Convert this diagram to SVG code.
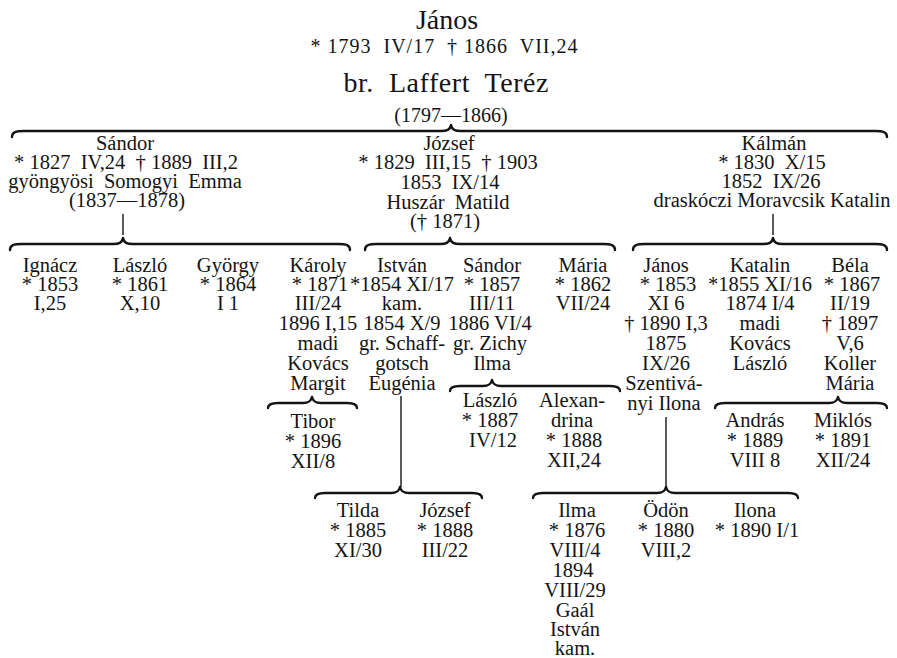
<svg xmlns="http://www.w3.org/2000/svg" width="897" height="658" viewBox="0 0 897 658">
<style>
text{font-family:"Liberation Serif","Times New Roman",serif;fill:#141414;text-anchor:middle;white-space:pre}
.b{font-size:20.5px}
.t1{font-size:28px}
.t2{font-size:20px}
.br{fill:none;stroke:#141414;stroke-width:2.4;stroke-linecap:round;stroke-linejoin:round}
.ln{stroke:#141414;stroke-width:1.4}
</style>
<rect width="897" height="658" fill="#fff"/>
<g id="connectors">
<path class="br" d="M12 137 C12 132 16 131 24 131 L441 131 C447 131 450 130 451 125 C452 130 455 131 461 131 L875 131 C883 131 887 132 887 137"/>
<path class="br" d="M10 250 C10 245 14 244 22 244 L113 244 C119 244 122 243 123 238 C124 243 127 244 133 244 L338 244 C346 244 350 245 350 250"/>
<path class="br" d="M365 250 C365 245 369 244 377 244 L440 244 C446 244 449 243 450 238 C451 243 454 244 460 244 L603 244 C611 244 615 245 615 250"/>
<path class="br" d="M633 250 C633 245 637 244 645 244 L763 244 C769 244 772 243 773 238 C774 243 777 244 783 244 L875 244 C883 244 887 245 887 250"/>
<path class="br" d="M268 408 C268 404 272 403 278 403 L303 403 C308 403 311 402 312 397 C313 402 316 403 321 403 L347 403 C353 403 357 404 357 408"/>
<path class="br" d="M450 391 C450 387 454 386 460 386 L483 386 C488 386 491 385 492 380 C493 385 496 386 501 386 L610 386 C616 386 620 387 620 391"/>
<path class="br" d="M715 408 C715 404 719 403 725 403 L829 403 C834 403 837 402 838 397 C839 402 842 403 847 403 L877 403 C883 403 887 404 887 408"/>
<path class="br" d="M315 498 C315 494 319 493 325 493 L391 493 C396 493 399 492 400 487 C401 492 404 493 409 493 L472 493 C478 493 482 494 482 498"/>
<path class="br" d="M533 498 C533 494 537 493 543 493 L657 493 C662 493 665 492 666 487 C667 492 670 493 675 493 L788 493 C794 493 798 494 798 498"/>
<line class="ln" x1="123" y1="214" x2="123" y2="235"/>
<line class="ln" x1="773" y1="214" x2="773" y2="235"/>
<line class="ln" x1="401" y1="396" x2="401" y2="487"/>
<line class="ln" x1="666" y1="417" x2="666" y2="487"/>
</g>
<g id="janos">
<text class="t1" x="447" y="29">János</text>
<text class="t2" x="444" y="53" textLength="267">* 1793  IV/17  † 1866  VII,24</text>
<text class="t1" x="446" y="92" textLength="205">br.  Laffert  Teréz</text>
<text class="t2" x="451" y="122">(1797—1866)</text>
</g>
<g id="sandor" class="b">
<text x="125" y="150">Sándor</text>
<text x="126" y="169">* 1827  IV,24  † 1889  III,2</text>
<text x="125" y="188">gyöngyösi  Somogyi  Emma</text>
<text x="127" y="207">(1837—1878)</text>
</g>
<g id="jozsef" class="b">
<text x="449" y="150">József</text>
<text x="448" y="169">* 1829  III,15  † 1903</text>
<text x="450" y="189">1853  IX/14</text>
<text x="448" y="209">Huszár  Matild</text>
<text x="445" y="228">(† 1871)</text>
</g>
<g id="kalman" class="b">
<text x="774" y="150">Kálmán</text>
<text x="772" y="169">* 1830  X/15</text>
<text x="771" y="188">1852  IX/26</text>
<text x="772" y="207">draskóczi Moravcsik Katalin</text>
</g>
<g id="ignacz" class="b">
<text x="50" y="272">Ignácz</text>
<text x="50" y="291">* 1853</text>
<text x="50" y="310">I,25</text>
</g>
<g id="laszlo1" class="b">
<text x="140" y="272">László</text>
<text x="140" y="291">* 1861</text>
<text x="140" y="310">X,10</text>
</g>
<g id="gyorgy" class="b">
<text x="228" y="272">György</text>
<text x="228" y="291">* 1864</text>
<text x="228" y="310">I 1</text>
</g>
<g id="karoly" class="b">
<text x="318" y="272">Károly</text>
<text x="320" y="291">* 1871</text>
<text x="318" y="310">III/24</text>
<text x="318" y="330">1896 I,15</text>
<text x="318" y="350">madi</text>
<text x="318" y="370">Kovács</text>
<text x="318" y="390">Margit</text>
</g>
<g id="tibor" class="b">
<text x="313" y="428">Tibor</text>
<text x="313" y="448">* 1896</text>
<text x="313" y="468">XII/8</text>
</g>
<g id="istvan" class="b">
<text x="402" y="272">István</text>
<text x="402" y="291">*1854 XI/17</text>
<text x="402" y="310">kam.</text>
<text x="402" y="330">1854 X/9</text>
<text x="402" y="350">gr. Schaff-</text>
<text x="402" y="370">gotsch</text>
<text x="402" y="390">Eugénia</text>
</g>
<g id="tilda" class="b">
<text x="358" y="517">Tilda</text>
<text x="358" y="537">* 1885</text>
<text x="358" y="557">XI/30</text>
</g>
<g id="jozsef2" class="b">
<text x="445" y="517">József</text>
<text x="445" y="537">* 1888</text>
<text x="445" y="557">III/22</text>
</g>
<g id="sandor2" class="b">
<text x="492" y="272">Sándor</text>
<text x="492" y="291">* 1857</text>
<text x="492" y="310">III/11</text>
<text x="490" y="330">1886 VI/4</text>
<text x="490" y="350">gr. Zichy</text>
<text x="492" y="370">Ilma</text>
</g>
<g id="laszlo2" class="b">
<text x="490" y="407">László</text>
<text x="490" y="427">* 1887</text>
<text x="493" y="447">IV/12</text>
</g>
<g id="alexandrina" class="b">
<text x="572" y="407">Alexan-</text>
<text x="572" y="427">drina</text>
<text x="574" y="447">* 1888</text>
<text x="574" y="467">XII,24</text>
</g>
<g id="maria" class="b">
<text x="583" y="272">Mária</text>
<text x="583" y="291">* 1862</text>
<text x="583" y="310">VII/24</text>
</g>
<g id="janos2" class="b">
<text x="666" y="272">János</text>
<text x="668" y="291">* 1853</text>
<text x="666" y="310">XI 6</text>
<text x="666" y="330">† 1890 I,3</text>
<text x="666" y="350">1875</text>
<text x="666" y="370">IX/26</text>
<text x="664" y="390">Szentivá-</text>
<text x="664" y="410">nyi Ilona</text>
</g>
<g id="ilma" class="b">
<text x="577" y="517">Ilma</text>
<text x="577" y="537">* 1876</text>
<text x="575" y="557">VIII/4</text>
<text x="573" y="577">1894</text>
<text x="575" y="597">VIII/29</text>
<text x="575" y="617">Gaál</text>
<text x="575" y="636">István</text>
<text x="575" y="655">kam.</text>
</g>
<g id="odon" class="b">
<text x="666" y="517">Ödön</text>
<text x="666" y="537">* 1880</text>
<text x="666" y="557">VIII,2</text>
</g>
<g id="ilona" class="b">
<text x="755" y="517">Ilona</text>
<text x="757" y="537">* 1890 I/1</text>
</g>
<g id="katalin" class="b">
<text x="760" y="272">Katalin</text>
<text x="760" y="291">*1855 XI/16</text>
<text x="760" y="310">1874 I/4</text>
<text x="760" y="330">madi</text>
<text x="760" y="350">Kovács</text>
<text x="760" y="370">László</text>
</g>
<g id="bela" class="b">
<text x="850" y="272">Béla</text>
<text x="852" y="291">* 1867</text>
<text x="850" y="310">II/19</text>
<text x="850" y="330">† 1897</text>
<text x="850" y="350">V,6</text>
<text x="850" y="370">Koller</text>
<text x="850" y="390">Mária</text>
</g>
<g id="andras" class="b">
<text x="755" y="427">András</text>
<text x="755" y="447">* 1889</text>
<text x="755" y="467">VIII 8</text>
</g>
<g id="miklos" class="b">
<text x="843" y="427">Miklós</text>
<text x="843" y="447">* 1891</text>
<text x="843" y="467">XII/24</text>
</g>
</svg>
